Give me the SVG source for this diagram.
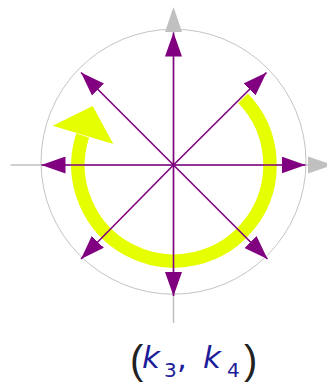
<svg xmlns="http://www.w3.org/2000/svg" width="327" height="382" viewBox="0 0 327 382">
<style>
.axis{stroke:#c0c0c0;stroke-width:1.5;fill:none}
.axhead{fill:#c0c0c0}
.vec{stroke:#800080;stroke-width:1.6;fill:none;marker-end:url(#pa)}
.rot{stroke:#e6ff00;stroke-width:13.5;fill:none}
.lbl{font-family:"DejaVu Sans",sans-serif;fill:#1c1c99}
.var{font-style:italic}
.par{font-family:"Liberation Sans",sans-serif;fill:#222;font-weight:normal}
</style>
<defs>
<marker id="pa" markerUnits="userSpaceOnUse" viewBox="0 0 24 17" markerWidth="24" markerHeight="17" refX="24" refY="8.5" orient="auto">
<path d="M0,0 L24,8.5 L0,17 z" fill="#800080"/>
</marker>
</defs>
<g id="axes">
<line class="axis" x1="10.5" y1="165" x2="310" y2="165"/>
<polygon class="axhead" points="308,156.5 333,165 308,173.5"/>
<line class="axis" x1="173.5" y1="323" x2="173.5" y2="32"/>
<polygon class="axhead" points="165,32 173.5,7 182,32"/>
</g>
<g id="circle">
<circle cx="173.5" cy="161.7" r="132.5" fill="none" stroke="#c4c4c4" stroke-width="1"/>
</g>
<g id="rotation">
<path class="rot" d="M243.05,98.31 A96,96 0 1 1 82.7,135.3"/>
<polygon fill="#e6ff00" points="52.7,125.7 92.7,106 113.3,144"/>
</g>
<g id="connectors">
<line class="vec" x1="173.5" y1="165" x2="305.5" y2="165"/>
<line class="vec" x1="173.5" y1="165" x2="41.5" y2="165"/>
<line class="vec" x1="173.5" y1="165" x2="173.5" y2="32.5"/>
<line class="vec" x1="173.5" y1="165" x2="173.5" y2="296"/>
<line class="vec" x1="173.5" y1="165" x2="266.5" y2="72.5"/>
<line class="vec" x1="173.5" y1="165" x2="81" y2="72.5"/>
<line class="vec" x1="173.5" y1="165" x2="81" y2="259"/>
<line class="vec" x1="173.5" y1="165" x2="267.5" y2="259"/>
</g>
<g id="label">
<text class="lbl" font-size="31"><tspan class="par" x="130" y="374" font-size="40">(</tspan><tspan class="var" x="142" y="368">k</tspan><tspan x="164" y="377" font-size="20">3</tspan><tspan x="177" y="368">,</tspan><tspan class="var" x="203" y="368">k</tspan><tspan x="227" y="377" font-size="20">4</tspan><tspan class="par" x="244" y="374" font-size="40">)</tspan></text>
</g>
</svg>
